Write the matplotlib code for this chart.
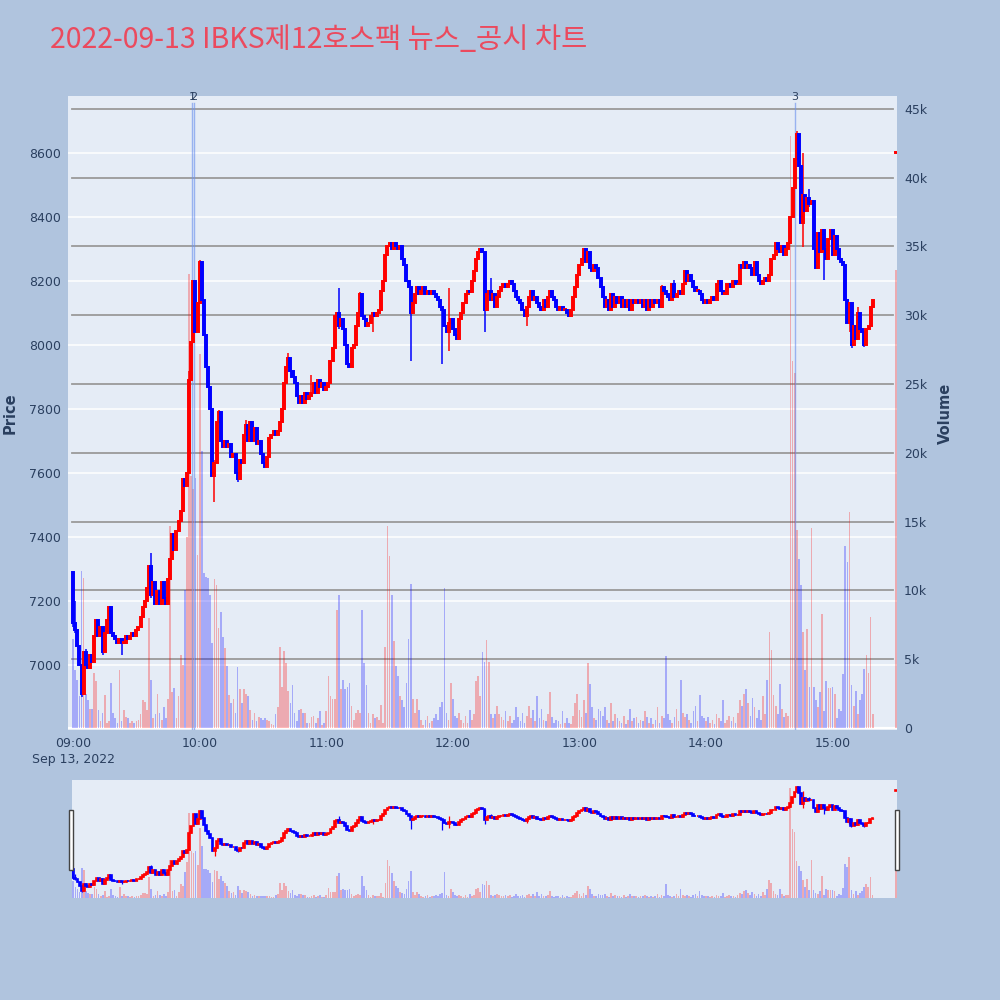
import matplotlib
matplotlib.use('Agg')
import matplotlib.pyplot as plt
import numpy as np
from matplotlib.patches import Rectangle

plt.rcParams['font.family'] = ['Noto Sans CJK KR', 'DejaVu Sans']

title = "2022-09-13 IBKS제12호스팩 뉴스_공시 차트"
date_label = "Sep 13, 2022"
hour_labels = ["09:00", "10:00", "11:00", "12:00", "13:00", "14:00", "15:00"]
price_ticks = [7000, 7200, 7400, 7600, 7800, 8000, 8200, 8400, 8600]
volume_ticks = [0, 5000, 10000, 15000, 20000, 25000, 30000, 35000, 40000, 45000]
volume_tick_labels = ["0", "5k", "10k", "15k", "20k", "25k", "30k", "35k", "40k", "45k"]

# first open of the session, then per-minute closes from 09:00
first_open = 7290
closes = [
    7130, 7110, 7060, 7000, 6910, 7040, 7000, 6990, 7030, 7010,
    7090, 7140, 7090, 7120, 7040, 7100, 7140, 7180, 7100, 7090,
    7080, 7070, 7080, 7070, 7070, 7090, 7080, 7090, 7100, 7090,
    7110, 7120, 7150, 7180, 7200, 7240, 7310, 7220, 7260, 7190,
    7230, 7190, 7260, 7210, 7190, 7270, 7330, 7410, 7360, 7420,
    7450, 7480, 7580, 7560, 7600, 7890, 8010, 8200, 8040, 8130,
    8260, 8140, 8030, 7930, 7870, 7800, 7590, 7630, 7760, 7790,
    7700, 7680, 7700, 7680, 7690, 7650, 7660, 7600, 7580, 7640,
    7630, 7720, 7750, 7700, 7760, 7700, 7740, 7690, 7700, 7660,
    7630, 7620, 7650, 7710, 7720, 7730, 7720, 7730, 7760, 7800,
    7880, 7930, 7960, 7920, 7900, 7880, 7840, 7820, 7840, 7820,
    7850, 7830, 7840, 7850, 7880, 7850, 7890, 7870, 7880, 7860,
    7870, 7880, 7950, 7990, 8090, 8100, 8060, 8080, 8050, 8000,
    7940, 7930, 7990, 8000, 8060, 8100, 8160, 8090, 8080, 8060,
    8070, 8090, 8100, 8090, 8100, 8110, 8170, 8200, 8280, 8310,
    8320, 8300, 8320, 8310, 8300, 8310, 8270, 8250, 8200, 8180,
    8100, 8130, 8160, 8180, 8160, 8170, 8180, 8160, 8170, 8160,
    8170, 8160, 8150, 8140, 8120, 8110, 8060, 8040, 8070, 8080,
    8050, 8030, 8020, 8080, 8100, 8130, 8160, 8170, 8165, 8200,
    8230, 8270, 8290, 8300, 8290, 8110, 8160, 8170, 8140, 8160,
    8120, 8150, 8170, 8180, 8190, 8180, 8190, 8200, 8190, 8170,
    8150, 8140, 8130, 8110, 8090, 8120, 8150, 8170, 8140, 8150,
    8130, 8120, 8110, 8140, 8120, 8150, 8170, 8150, 8140, 8120,
    8110, 8120, 8110, 8110, 8100, 8090, 8110, 8150, 8180, 8220,
    8250, 8270, 8300, 8260, 8290, 8240, 8230, 8250, 8240, 8210,
    8180, 8150, 8120, 8140, 8110, 8160, 8120, 8150, 8130, 8150,
    8120, 8140, 8120, 8140, 8110, 8140, 8130, 8140, 8130, 8140,
    8120, 8140, 8110, 8140, 8120, 8140, 8130, 8140, 8120, 8180,
    8170, 8160, 8150, 8140, 8190, 8150, 8160, 8170, 8160, 8190,
    8230, 8200, 8220, 8200, 8180, 8170, 8170, 8160, 8140, 8130,
    8140, 8130, 8140, 8150, 8140, 8190, 8200, 8170, 8160, 8160,
    8190, 8190, 8180, 8200, 8190, 8190, 8250, 8240, 8260, 8240,
    8250, 8240, 8220, 8260, 8220, 8200, 8190, 8200, 8210, 8200,
    8220, 8270, 8280, 8320, 8300, 8290, 8310, 8280, 8300, 8320,
    8400, 8490, 8580, 8660, 8560, 8380, 8470, 8420, 8460, 8440,
    8450, 8300, 8240, 8350, 8290, 8360, 8300, 8270, 8330, 8360,
    8280, 8340, 8300, 8270, 8260, 8250, 8140, 8070, 8130, 8000,
    8060, 8020, 8100, 8050, 8040, 8000, 8050, 8060, 8120, 8140,
]

# extra wick extremes: minute -> (low, high)
wicks = {
    0: (7120, 7290), 1: (7100, 7200), 4: (6900, 7000), 6: (6990, 7050),
    14: (7030, 7120), 23: (7030, 7080), 37: (7210, 7350), 55: (7600, 7920),
    60: (8130, 8266), 67: (7510, 7640), 69: (7760, 7797), 78: (7573, 7600),
    82: (7720, 7766), 102: (7930, 7974), 113: (7840, 7906), 126: (8050, 8177),
    136: (8100, 8167), 142: (8040, 8100), 160: (7950, 8180), 175: (7940, 8120),
    178: (7980, 8177), 195: (8040, 8290), 198: (8140, 8210), 215: (8060, 8120),
    279: (8115, 8187), 285: (8150, 8203), 343: (8580, 8670), 346: (8307, 8600),
    349: (8430, 8486), 356: (8203, 8360), 368: (8040, 8130), 369: (7990, 8130),
    372: (8020, 8120), 375: (7995, 8040),
}

volumes_k = [
    6.5, 4.2, 3.5, 2.3, 11.4, 10.9, 2.5, 2.0, 1.4, 1.4,
    4.0, 3.4, 1.3, 0.5, 1.1, 2.4, 0.4, 0.5, 3.3, 1.1,
    0.7, 0.4, 4.2, 0.5, 1.3, 0.8, 0.7, 0.4, 0.5, 0.4,
    0.5, 0.6, 1.0, 2.0, 1.9, 1.3, 8.0, 3.5, 0.7, 1.0,
    2.5, 1.1, 0.6, 1.5, 0.7, 2.1, 14.7, 2.6, 2.9, 0.7,
    2.3, 5.3, 4.6, 10.0, 13.9, 33.0, 18.3, 17.4, 18.2, 12.6,
    27.2, 20.1, 11.3, 11.0, 10.9, 9.7, 6.2, 10.8, 10.4, 7.3,
    8.4, 6.6, 5.8, 4.5, 2.4, 1.8, 2.1, 1.1, 4.4, 2.8,
    1.8, 2.8, 2.5, 2.3, 1.3, 0.6, 1.1, 0.5, 0.8, 0.7,
    0.6, 0.7, 0.6, 0.5, 0.3, 0.2, 1.0, 1.5, 5.9, 3.0,
    5.6, 4.7, 2.7, 1.8, 3.1, 1.1, 0.5, 1.3, 1.4, 1.1,
    1.1, 0.4, 0.4, 0.8, 0.9, 0.4, 0.7, 1.2, 0.2, 0.4,
    1.2, 3.8, 2.3, 2.1, 2.1, 8.6, 9.7, 2.8, 3.5, 2.8,
    3.0, 3.3, 1.6, 0.6, 1.1, 1.3, 1.1, 8.6, 4.7, 3.1,
    1.1, 0.4, 1.0, 0.7, 0.8, 0.6, 1.7, 0.4, 5.9, 14.7,
    12.5, 9.7, 6.3, 4.5, 3.8, 2.3, 2.0, 1.5, 3.3, 6.5,
    10.5, 2.1, 1.1, 2.1, 1.3, 0.6, 0.2, 0.6, 0.9, 0.4,
    0.5, 0.7, 1.0, 0.6, 1.5, 1.9, 10.2, 1.1, 0.6, 3.3,
    2.1, 0.9, 0.7, 1.1, 0.6, 0.4, 0.9, 0.4, 1.3, 0.6,
    1.0, 3.4, 3.8, 2.3, 5.5, 4.8, 6.4, 4.8, 1.0, 0.7,
    1.0, 1.6, 1.0, 0.8, 0.6, 1.2, 0.5, 0.9, 0.4, 0.6,
    1.5, 0.8, 0.5, 1.1, 0.4, 0.9, 1.6, 0.7, 1.3, 0.5,
    2.3, 0.7, 1.4, 0.6, 0.5, 1.0, 2.6, 0.8, 0.4, 0.6,
    0.5, 0.3, 1.2, 0.4, 0.7, 0.4, 0.3, 0.9, 1.8, 2.5,
    1.3, 0.8, 2.0, 1.1, 4.7, 3.2, 1.5, 0.7, 0.6, 1.4,
    1.2, 0.9, 1.5, 0.6, 0.4, 1.8, 0.5, 1.0, 0.7, 0.5,
    0.4, 0.9, 0.3, 0.6, 1.4, 0.5, 0.7, 0.8, 0.4, 0.6,
    0.5, 1.2, 0.8, 0.4, 0.7, 0.3, 0.6, 1.5, 0.4, 0.9,
    0.7, 5.2, 1.0, 0.6, 0.4, 0.8, 1.4, 0.5, 3.5, 1.1,
    0.8, 1.0, 0.6, 0.4, 1.2, 1.6, 0.5, 2.4, 0.9, 0.7,
    0.5, 0.8, 0.4, 0.6, 0.3, 1.0, 0.7, 0.5, 2.0, 0.4,
    0.6, 0.9, 0.5, 0.8, 0.4, 1.1, 2.0, 1.6, 2.5, 2.8,
    1.8, 0.9, 2.2, 1.5, 0.7, 1.3, 0.6, 2.3, 1.0, 3.5,
    7.0, 5.7, 2.4, 1.6, 1.0, 3.2, 1.4, 0.8, 1.1, 0.9,
    43.0, 26.7, 25.8, 14.4, 12.3, 10.4, 7.0, 4.2, 7.2, 3.0,
    14.5, 3.0, 2.0, 1.5, 2.6, 8.3, 1.2, 3.4, 2.9, 2.9,
    3.0, 2.5, 0.7, 1.4, 1.2, 3.9, 13.2, 12.1, 15.7, 3.1,
    1.6, 2.7, 1.0, 2.0, 2.5, 4.3, 5.3, 4.0, 8.1, 1.0,
]

# closing auction at 15:30
auction_minute = 390
auction_price = 8600
auction_volume_k = 33.3

# news / disclosure markers (minutes after 09:00) and their labels
news_minutes = [56.4, 57.3, 342.2]
news_labels = ["1", "2", "3"]

# ---------------------------------------------------------------
UP = '#FF0000'
DOWN = '#0000FF'
BG = '#B0C4DE'
PLOT_BG = '#E5ECF6'
TXT = '#2a3f5f'

n = len(closes)
xs = np.arange(n, dtype=float)
c = np.array(closes, dtype=float)
o = np.concatenate([[first_open], c[:-1]])
hi = np.maximum(o, c)
lo = np.minimum(o, c)
for k, (wl, wh) in wicks.items():
    hi[k] = max(hi[k], wh)
    lo[k] = min(lo[k], wl)
cols = [UP if cc >= oo else DOWN for oo, cc in zip(o, c)]
vol = np.array(volumes_k) * 1000.0

# add the auction candle
xs_all = np.append(xs, auction_minute)
o_all = np.append(o, auction_price)
c_all = np.append(c, auction_price)
hi_all = np.append(hi, auction_price)
lo_all = np.append(lo, auction_price)
cols_all = cols + [UP]
vol_all = np.append(vol, auction_volume_k * 1000.0)

PRICE_LIM = (6797, 8778)
VOL_LIM = (-145, 45930)


def draw_series(axv, axp, body_w, body_lw, wick_lw, vol_w):
    axv.bar(xs_all, vol_all, width=vol_w, color=cols_all, alpha=0.28,
            linewidth=0, zorder=2)
    heights = np.maximum(np.abs(c_all - o_all), 2.0)
    bottoms = np.minimum(o_all, c_all)
    axp.vlines(xs_all, lo_all, hi_all, colors=cols_all, linewidth=wick_lw, zorder=3)
    axp.bar(xs_all, heights, bottom=bottoms, width=body_w, color=cols_all,
            edgecolor=cols_all, linewidth=body_lw, zorder=4)


fig = plt.figure(figsize=(10, 10), dpi=100, facecolor=BG)

fig.text(0.05, 0.960, title, fontsize=20.5, color='#EB4A5E', ha='left', va='center',
         family=['Noto Sans CJK KR', 'DejaVu Sans'])

# ---- main chart ----
ax_v = fig.add_axes([0.068, 0.27, 0.829, 0.634])
ax_v.set_facecolor(PLOT_BG)
ax_p = ax_v.twinx()
ax_p.patch.set_visible(False)

XLIM = (-2.4, 390.5)
ax_v.set_xlim(*XLIM)
ax_v.set_ylim(*VOL_LIM)
ax_p.set_ylim(*PRICE_LIM)

# price gridlines (white, beneath everything)
for pt in price_ticks:
    ax_v.plot(XLIM, [pt, pt], color='white', lw=1.1, zorder=0.5,
              transform=ax_p.transData)
ax_v.axhline(0, color='white', lw=1.6, zorder=0.6)
# volume gridlines (grey)
for vt in volume_ticks[1:]:
    ax_v.plot([-0.5, 388.6], [vt, vt], color='#9a9a9a', lw=1.3, zorder=1)

draw_series(ax_v, ax_p, body_w=0.95, body_lw=1.4, wick_lw=1.1, vol_w=0.8)

for nm, lab in zip(news_minutes, news_labels):
    ax_v.axvline(nm, ymin=0, ymax=0.989, color='#6f94ee', alpha=0.65, lw=1.0, zorder=2.5)
    ax_v.text(nm, 0.998, lab, transform=ax_v.get_xaxis_transform(), ha='center',
              va='center', fontsize=8, color=TXT, family='DejaVu Sans')

ax_v.set_xticks([60 * i for i in range(len(hour_labels))])
xt = list(hour_labels)
xt[0] = hour_labels[0] + "\n" + date_label
ax_v.set_xticklabels(xt, fontsize=9, color=TXT, family='DejaVu Sans', linespacing=1.35)
ax_v.tick_params(axis='x', length=0, pad=5)

ax_v.yaxis.tick_right()
ax_v.set_yticks(volume_ticks)
ax_v.set_yticklabels(volume_tick_labels, fontsize=9, color=TXT, family='DejaVu Sans')
ax_v.tick_params(axis='y', length=0, pad=5)

ax_p.yaxis.tick_left()
ax_p.set_yticks(price_ticks)
ax_p.set_yticklabels([str(p) for p in price_ticks], fontsize=9, color=TXT,
                     family='DejaVu Sans')
ax_p.tick_params(axis='y', length=0, pad=5)

for a in (ax_v, ax_p):
    for s in a.spines.values():
        s.set_visible(False)

fig.text(0.010, 0.587, 'Price', rotation=90, fontsize=10.5, fontweight='bold',
         color=TXT, ha='center', va='center', family='DejaVu Sans')
fig.text(0.945, 0.587, 'Volume', rotation=90, fontsize=10.5, fontweight='bold',
         color=TXT, ha='center', va='center', family='DejaVu Sans')

# ---- range slider ----
ax_s = fig.add_axes([0.072, 0.102, 0.825, 0.118])
ax_s.set_facecolor(PLOT_BG)
ax_s2 = ax_s.twinx()
ax_s2.patch.set_visible(False)
ax_s.set_xlim(-0.6, 390.6)
ax_s.set_ylim(*VOL_LIM)
ax_s2.set_ylim(*PRICE_LIM)
draw_series(ax_s, ax_s2, body_w=0.9, body_lw=1.2, wick_lw=0.9, vol_w=0.8)
for a in (ax_s, ax_s2):
    a.set_xticks([])
    a.set_yticks([])
    for s in a.spines.values():
        s.set_visible(False)

for hx in (0.0693, 0.895):
    fig.patches.append(Rectangle((hx, 0.130), 0.004, 0.060, transform=fig.transFigure,
                                 facecolor='white', edgecolor='#444444', lw=1.0,
                                 zorder=10))

fig.savefig('out.png', dpi=100, facecolor=BG)
